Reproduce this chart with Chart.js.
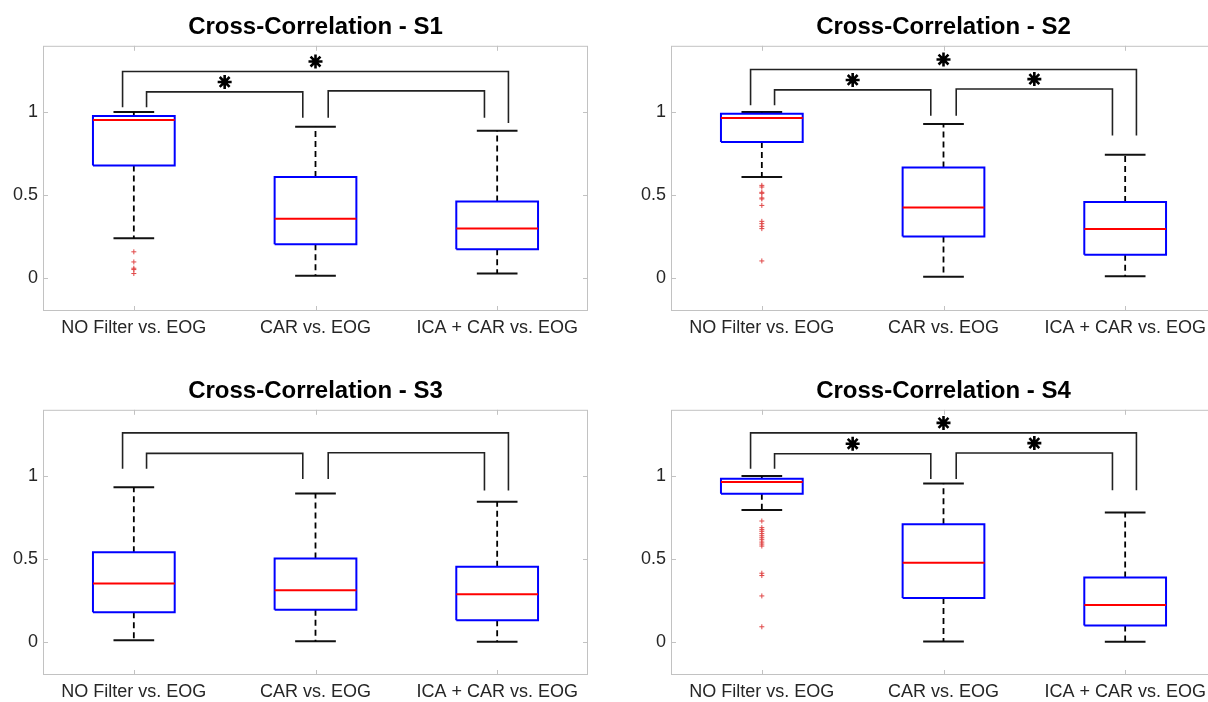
<!DOCTYPE html>
<html>
<head>
<meta charset="utf-8">
<title>Cross-Correlation</title>
<script src="https://cdn.jsdelivr.net/npm/chart.js@4.4.1/dist/chart.umd.min.js"></script>
<style>
  html, body { margin: 0; padding: 0; background: #fff; }
  body { width: 1208px; height: 702px; overflow: hidden; position: relative; }
  .panel { position: absolute; width: 610px; height: 350px; }
</style>
</head>
<body>
<div class="panel" style="left:0;top:0"><canvas id="s1" width="610" height="350"></canvas></div>
<div class="panel" style="left:628px;top:0"><canvas id="s2" width="610" height="350"></canvas></div>
<div class="panel" style="left:0;top:364px"><canvas id="s3" width="610" height="350"></canvas></div>
<div class="panel" style="left:628px;top:364px"><canvas id="s4" width="610" height="350"></canvas></div>
<script>
const categories = ["NO Filter vs. EOG", "CAR vs. EOG", "ICA + CAR vs. EOG"];
const subjects = ["S1", "S2", "S3", "S4"];
const yTicks = [0, 0.5, 1];

// box statistics: one row per subject, one column per category
const whiskerLow  = [[0.239, 0.012, 0.026], [0.608, 0.006, 0.010], [0.010, 0.004, 0.000], [0.796, 0.002, 0.000]];
const quartile1   = [[0.678, 0.202, 0.172], [0.819, 0.249, 0.140], [0.178, 0.194, 0.131], [0.893, 0.265, 0.099]];
const medians     = [[0.952, 0.357, 0.297], [0.964, 0.425, 0.295], [0.352, 0.311, 0.287], [0.964, 0.477, 0.222]];
const quartile3   = [[0.976, 0.608, 0.461], [0.990, 0.666, 0.458], [0.541, 0.503, 0.453], [0.984, 0.709, 0.388]];
const whiskerHigh = [[1.000, 0.911, 0.887], [1.000, 0.928, 0.743], [0.933, 0.895, 0.846], [1.000, 0.956, 0.780]];

// outliers, only the unfiltered signal has them
const outliers = [
    [0.157, 0.096, 0.058, 0.050, 0.026],
    [0.558, 0.548, 0.516, 0.510, 0.482, 0.476, 0.437, 0.341, 0.327, 0.311, 0.297, 0.102],
    [],
    [0.729, 0.689, 0.677, 0.667, 0.653, 0.640, 0.628, 0.616, 0.602, 0.590, 0.578, 0.414, 0.400, 0.277, 0.091]
];

// significance brackets (pairs of categories), bar level, leg ends, star
const pairs = [[1, 2], [2, 3], [1, 3]];
const barLevel = [[1.122, 1.128, 1.245], [1.134, 1.139, 1.257], [1.137, 1.141, 1.261], [1.135, 1.139, 1.261]];
const legEnds = [
    [[1.030, 0.966], [0.966, 0.966], [1.030, 0.934]],
    [[1.042, 0.978], [0.978, 0.859], [1.042, 0.859]],
    [[1.044, 0.982], [0.982, 0.913], [1.044, 0.913]],
    [[1.044, 0.982], [0.982, 0.915], [1.044, 0.915]]
];
const significant = [[true, false, true], [true, true, true], [false, false, false], [true, true, true]];

const FONT = "'Liberation Sans', Arial, Helvetica, sans-serif";
const BOX_HALF = 0.225;
const CAP_HALF = 0.112;
const INNER_INSET = 0.07;
const OUTER_OUTSET = 0.062;
const STAR_LIFT = 0.06;

Chart.defaults.font.family = FONT;

function seg(points, color, width, dash) {
    return {
        data: points,
        showLine: true,
        borderColor: color,
        borderWidth: width,
        borderDash: dash || [],
        borderJoinStyle: "miter",
        pointRadius: 0,
        pointHoverRadius: 0,
        fill: false,
        tension: 0
    };
}

function buildDatasets(s) {
    const sets = [];

    categories.forEach((_, i) => {
        const c = i + 1;
        const lo = whiskerLow[s][i], q1 = quartile1[s][i], md = medians[s][i];
        const q3 = quartile3[s][i], hi = whiskerHigh[s][i];

        sets.push(seg([{ x: c - BOX_HALF, y: md }, { x: c + BOX_HALF, y: md }], "#ff0000", 2));
        sets.push(seg([
            { x: c - BOX_HALF, y: q1 }, { x: c + BOX_HALF, y: q1 },
            { x: c + BOX_HALF, y: q3 }, { x: c - BOX_HALF, y: q3 },
            { x: c - BOX_HALF, y: q1 }
        ], "#0000ff", 2));
        sets.push(seg([{ x: c, y: q3 }, { x: c, y: hi }], "#000", 1.8, [6, 4]));
        sets.push(seg([{ x: c, y: q1 }, { x: c, y: lo }], "#000", 1.8, [6, 4]));
        sets.push(seg([{ x: c - CAP_HALF, y: hi }, { x: c + CAP_HALF, y: hi }], "#111", 2));
        sets.push(seg([{ x: c - CAP_HALF, y: lo }, { x: c + CAP_HALF, y: lo }], "#111", 2));
    });

    // outlier markers
    sets.push({
        data: outliers[s].map(v => ({ x: 1, y: v })),
        showLine: false,
        pointStyle: "cross",
        pointRadius: 2.5,
        pointBorderColor: "#e04848",
        pointBorderWidth: 1,
        pointHoverRadius: 0
    });

    // brackets and stars
    const stars = [];
    pairs.forEach(([a, b], k) => {
        const outer = (b - a) > 1;
        const x1 = outer ? a - OUTER_OUTSET : a + INNER_INSET;
        const x2 = outer ? b + OUTER_OUTSET : b - INNER_INSET;
        const lvl = barLevel[s][k];
        sets.push(seg([
            { x: x1, y: legEnds[s][k][0] }, { x: x1, y: lvl },
            { x: x2, y: lvl }, { x: x2, y: legEnds[s][k][1] }
        ], "#222", 1.6));
        if (significant[s][k]) stars.push({ x: (a + b) / 2, y: lvl + STAR_LIFT });
    });
    sets.push({
        data: stars,
        showLine: false,
        pointStyle: "star",
        pointRadius: 7,
        pointBorderColor: "#000",
        pointBorderWidth: 2.6,
        pointHoverRadius: 0
    });

    return sets;
}

// light grey axes box with inward tick marks on all four sides
const framePlugin = {
    id: "frame",
    beforeDatasetsDraw(chart) {
        const { ctx, chartArea: a, scales: { x, y } } = chart;
        const t = 5;
        ctx.save();
        ctx.strokeStyle = "#c2c2c2";
        ctx.lineWidth = 1;
        ctx.strokeRect(a.left + 0.5, a.top + 0.5, a.width - 1, a.height - 1);
        ctx.beginPath();
        x.ticks.forEach(tk => {
            const px = Math.round(x.getPixelForValue(tk.value)) + 0.5;
            ctx.moveTo(px, a.bottom); ctx.lineTo(px, a.bottom - t);
            ctx.moveTo(px, a.top); ctx.lineTo(px, a.top + t);
        });
        y.ticks.forEach(tk => {
            const py = Math.round(y.getPixelForValue(tk.value)) + 0.5;
            ctx.moveTo(a.left, py); ctx.lineTo(a.left + t, py);
            ctx.moveTo(a.right, py); ctx.lineTo(a.right - t, py);
        });
        ctx.stroke();
        ctx.restore();
    }
};

subjects.forEach((name, s) => {
    const canvas = document.getElementById(name.toLowerCase());

    new Chart(canvas.getContext("2d"), {
        type: "scatter",
        data: { datasets: buildDatasets(s) },
        options: {
            responsive: false,
            animation: false,
            devicePixelRatio: 1,
            layout: { padding: { left: 0, right: 22, top: 0, bottom: 0 } },
            plugins: {
                legend: { display: false },
                tooltip: { enabled: false },
                title: {
                    display: true,
                    fullSize: false,
                    text: "Cross-Correlation - " + name,
                    color: "#000",
                    font: { family: FONT, size: 24, weight: "bold" },
                    padding: { top: 13, bottom: 4 }
                }
            },
            scales: {
                x: {
                    type: "linear",
                    min: 0.5,
                    max: 3.5,
                    afterBuildTicks: axis => { axis.ticks = categories.map((_, i) => ({ value: i + 1 })); },
                    afterFit: axis => { axis.height = 39; },
                    ticks: {
                        callback: v => categories[Math.round(v) - 1],
                        color: "#262626",
                        font: { family: FONT, size: 18 },
                        padding: 6,
                        maxRotation: 0,
                        autoSkip: false
                    },
                    grid: { display: false, drawTicks: false },
                    border: { display: false }
                },
                y: {
                    type: "linear",
                    min: -0.2,
                    max: 1.4,
                    afterBuildTicks: axis => { axis.ticks = yTicks.map(v => ({ value: v })); },
                    afterFit: axis => { axis.width = 43; },
                    ticks: {
                        callback: v => String(v),
                        color: "#262626",
                        font: { family: FONT, size: 18 },
                        padding: 5
                    },
                    grid: { display: false, drawTicks: false },
                    border: { display: false }
                }
            }
        },
        plugins: [framePlugin]
    });
});
</script>
</body>
</html>
